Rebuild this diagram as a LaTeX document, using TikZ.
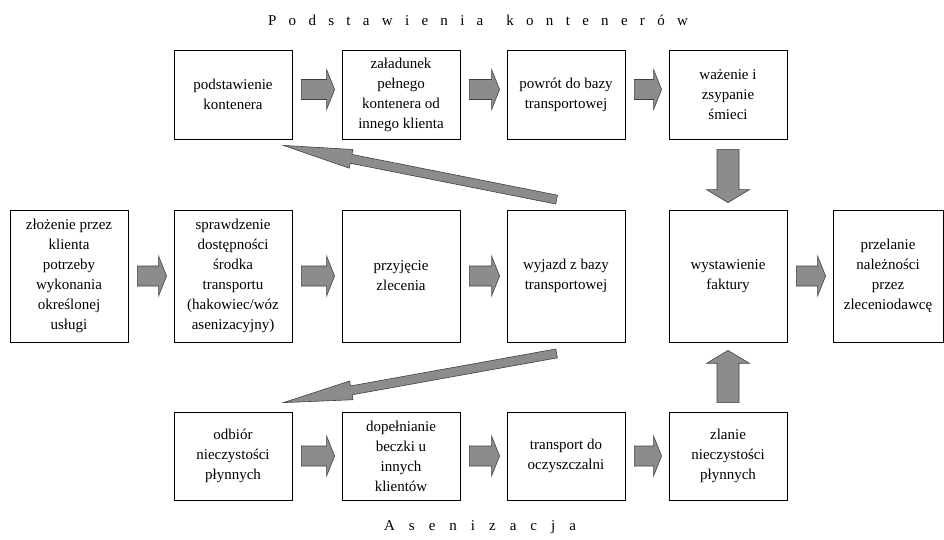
\documentclass[tikz,border=0pt]{standalone}
\usepackage{fontspec}
\setmainfont{Liberation Serif}
\usetikzlibrary{calc}
\tikzset{
  box/.style={draw, line width=0.8pt, minimum width=118pt, align=center, inner sep=2pt, font=\rmfamily\fontsize{15}{20}\selectfont},
  toprow/.style={box, minimum height=89pt},
  midrow/.style={box, minimum height=132pt},
  botrow/.style={box, minimum height=88pt},
  fatarrow/.style={fill=black!45, draw=black!75, line width=0.6pt, line join=miter},
  title/.style={font=\rmfamily\fontsize{15}{18}\selectfont}
}
% block arrow: from, to, half shaft, half head, head length
\newcommand{\blockarrow}[5]{%
  \coordinate (ba-n) at ($(#2)!#5!(#1)$);
  \draw[fatarrow] ($(#1)!#3!90:(#2)$) -- ($(ba-n)!#3!90:(#2)$) -- ($(ba-n)!#4!90:(#2)$) -- (#2)
    -- ($(ba-n)!#4!-90:(#2)$) -- ($(ba-n)!#3!-90:(#2)$) -- ($(#1)!#3!-90:(#2)$) -- cycle;}
\newcommand{\harrow}[3][0]{%
  \coordinate (ha-a) at ($(#2.east)+(9,#1)$);
  \coordinate (ha-b) at ($(#3.west)+(-7,#1)$);
  \blockarrow{ha-a}{ha-b}{10pt}{20pt}{8pt}}
\begin{document}
\begin{tikzpicture}[x=1pt,y=-1pt]
  \useasboundingbox (0,0) rectangle (944,539);
  % titles
  \node[title] (tytul) at (478,20) {\spaceskip=12.3pt P o d s t a w i e n i a\hspace{23pt}k o n t e n e r ó w};
  \node[title] (asen) at (480,527) {\spaceskip=14pt A s e n i z a c j a};
  % top row
  \node[toprow] (podstawienie) at (233,94.5) {podstawienie\\kontenera};
  \node[toprow] (zaladunek) at (401,94.5) {załadunek\\pełnego\\kontenera od\\innego klienta};
  \node[toprow] (powrot) at (566,94.5) {powrót do bazy\\transportowej};
  \node[toprow] (wazenie) at (728,94.5) {ważenie i\\zsypanie\\śmieci};
  % middle row
  \node[midrow] (zlozenie) at (69,276) {złożenie przez\\klienta\\potrzeby\\wykonania\\określonej\\usługi};
  \node[midrow] (sprawdzenie) at (233,276) {sprawdzenie\\dostępności\\środka\\transportu\\(hakowiec/wóz\\asenizacyjny)};
  \node[midrow] (przyjecie) at (401,276) {przyjęcie\\zlecenia};
  \node[midrow] (wyjazd) at (566,276) {wyjazd z bazy\\transportowej};
  \node[midrow] (faktura) at (728,276) {wystawienie\\faktury};
  \node[midrow, minimum width=110pt] (przelanie) at (888,276) {przelanie\\należności\\przez\\zleceniodawcę};
  % bottom row
  \node[botrow] (odbior) at (233,456) {odbiór\\nieczystości\\płynnych};
  \node[botrow] (dopelnianie) at (401,456) {dopełnianie\\beczki u\\innych\\klientów};
  \node[botrow] (transport) at (566,456) {transport do\\oczyszczalni};
  \node[botrow] (zlanie) at (728,456) {zlanie\\nieczystości\\płynnych};
  % horizontal arrows
  \harrow[-5]{podstawienie}{zaladunek}
  \harrow[-5]{zaladunek}{powrot}
  \harrow[-5]{powrot}{wazenie}
  \harrow{zlozenie}{sprawdzenie}
  \harrow{sprawdzenie}{przyjecie}
  \harrow{przyjecie}{wyjazd}
  \harrow{faktura}{przelanie}
  \harrow{odbior}{dopelnianie}
  \harrow{dopelnianie}{transport}
  \harrow{transport}{zlanie}
  % vertical arrows
  \coordinate (v1a) at ($(wazenie.south)+(0,10)$);
  \coordinate (v1b) at ($(faktura.north)+(0,-7)$);
  \blockarrow{v1a}{v1b}{11pt}{21.5pt}{13pt}
  \coordinate (v2a) at ($(zlanie.north)+(0,-9)$);
  \coordinate (v2b) at ($(faktura.south)+(0,8)$);
  \blockarrow{v2a}{v2b}{11pt}{21.5pt}{13pt}
  % diagonal arrows
  \coordinate (d1a) at ($(wyjazd.north west)+(50,-10)$);
  \coordinate (d1b) at ($(podstawienie.south east)+(-9,6)$);
  \blockarrow{d1a}{d1b}{4.5pt}{9.5pt}{69pt}
  \coordinate (d2a) at ($(wyjazd.south west)+(50,11)$);
  \coordinate (d2b) at ($(odbior.north east)+(-9,-9)$);
  \blockarrow{d2a}{d2b}{4.5pt}{9.5pt}{69pt}
\end{tikzpicture}
\end{document}
